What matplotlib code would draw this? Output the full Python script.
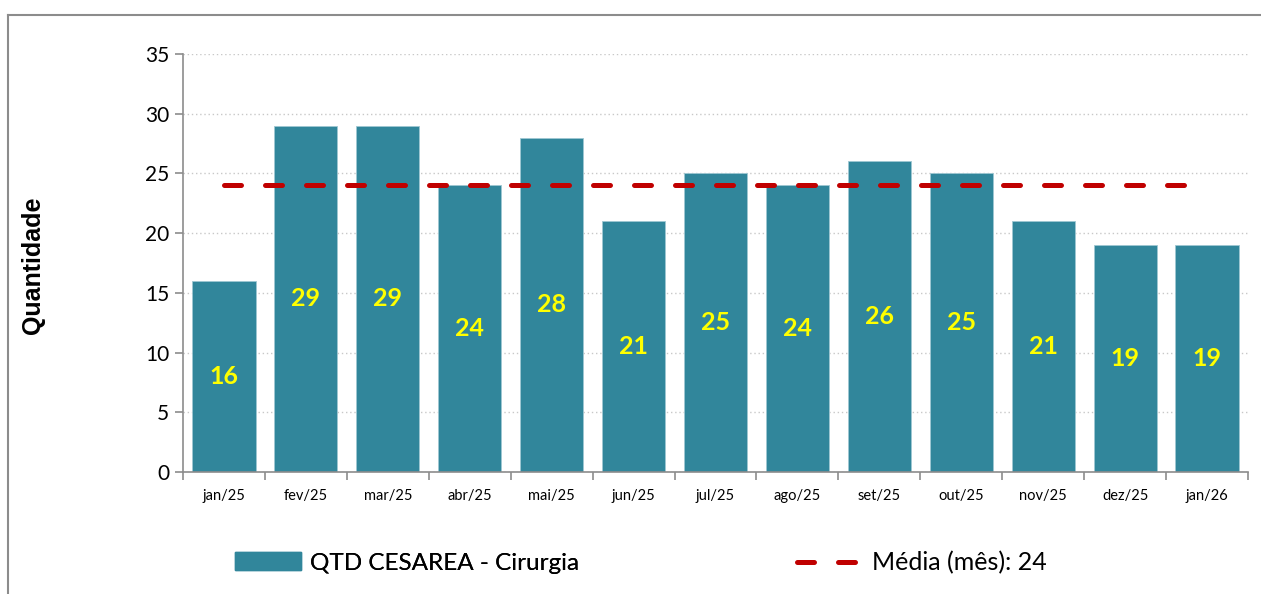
import matplotlib.pyplot as plt
import numpy as np
from matplotlib.lines import Line2D
from matplotlib.patches import Patch

plt.rcParams["font.family"] = ["Lato", "DejaVu Sans"]

meses = ["jan/25", "fev/25", "mar/25", "abr/25", "mai/25", "jun/25", "jul/25",
         "ago/25", "set/25", "out/25", "nov/25", "dez/25", "jan/26"]
qtd_cesarea = [16, 29, 29, 24, 28, 21, 25, 24, 26, 25, 21, 19, 19]
media_mes = 24

cor_barra = "#31869B"
cor_media = "#C00000"
cor_eixo = "#8C8C8C"

fig = plt.figure(figsize=(12.61, 5.94), dpi=100)
ax = fig.add_axes([183 / 1261, 1 - 472 / 594, (1248 - 183) / 1261, (472 - 54) / 594])

# outer frame of the chart area (only top and left edges are visible)
x0, y0 = 8 / 1261, 1 - 15 / 594
fig.add_artist(Line2D([x0, 1.0], [y0, y0], transform=fig.transFigure,
                      color=cor_eixo, linewidth=1.5))
fig.add_artist(Line2D([x0, x0], [0.0, y0], transform=fig.transFigure,
                      color=cor_eixo, linewidth=1.5))

x = np.arange(len(meses))
bars = ax.bar(x, qtd_cesarea, width=0.77, color=cor_barra,
              edgecolor="#9fc7d2", linewidth=0.6, zorder=2)

ax.plot(x, [media_mes] * len(x), color=cor_media, linewidth=3.6,
        linestyle=(0, (3.4, 4.8)), dash_capstyle="round", zorder=3)

# data labels in the middle of each bar
for xi, v in zip(x, qtd_cesarea):
    ax.text(xi, v / 2, str(v), ha="center", va="center", color="#FFFF00",
            fontsize=18, fontweight="bold", zorder=4)

ax.set_xlim(-0.5, len(meses) - 0.5)
ax.set_ylim(0, 35)
ax.set_yticks(np.arange(0, 36, 5))
ax.tick_params(axis="y", labelsize=15, color=cor_eixo, length=6, width=1.2, pad=4)

ax.set_xticks(x)
ax.set_xticklabels(meses, fontsize=10.5)
ax.set_xticks(np.arange(-0.5, len(meses), 1), minor=True)
ax.tick_params(axis="x", which="major", length=0, pad=12)
ax.tick_params(axis="x", which="minor", length=6, color=cor_eixo, width=1.2)

ax.grid(axis="y", linestyle=(0, (1, 2)), color="#C8C8C8", linewidth=1)
ax.set_axisbelow(True)

ax.spines["top"].set_visible(False)
ax.spines["right"].set_visible(False)
ax.spines["left"].set_color(cor_eixo)
ax.spines["bottom"].set_color(cor_eixo)
ax.spines["left"].set_linewidth(1.2)
ax.spines["bottom"].set_linewidth(1.2)

fig.text(33 / 1261, 1 - 265 / 594, "Quantidade", rotation=90, ha="center",
         va="center", fontsize=18, fontweight="bold", family="Liberation Sans")

leg1 = fig.legend(handles=[Patch(color=cor_barra, label="QTD CESAREA - Cirurgia")],
                  loc="center left", bbox_to_anchor=(235 / 1261, 1 - 563 / 594),
                  frameon=False, fontsize=17.5, borderpad=0, borderaxespad=0,
                  handlelength=2.7, handleheight=0.75, handletextpad=0.4)
leg2 = fig.legend(handles=[Line2D([0], [0], color=cor_media, linewidth=3.6,
                                  linestyle=(0, (3.4, 4.8)), dash_capstyle="round",
                                  label=f"Média (mês): {media_mes}")],
                  loc="center left", bbox_to_anchor=(797 / 1261, 1 - 563 / 594),
                  frameon=False, fontsize=18, borderpad=0, borderaxespad=0,
                  handlelength=2.6, handletextpad=0.4)
fig.add_artist(leg1)

fig.savefig("out.png", dpi=100)
